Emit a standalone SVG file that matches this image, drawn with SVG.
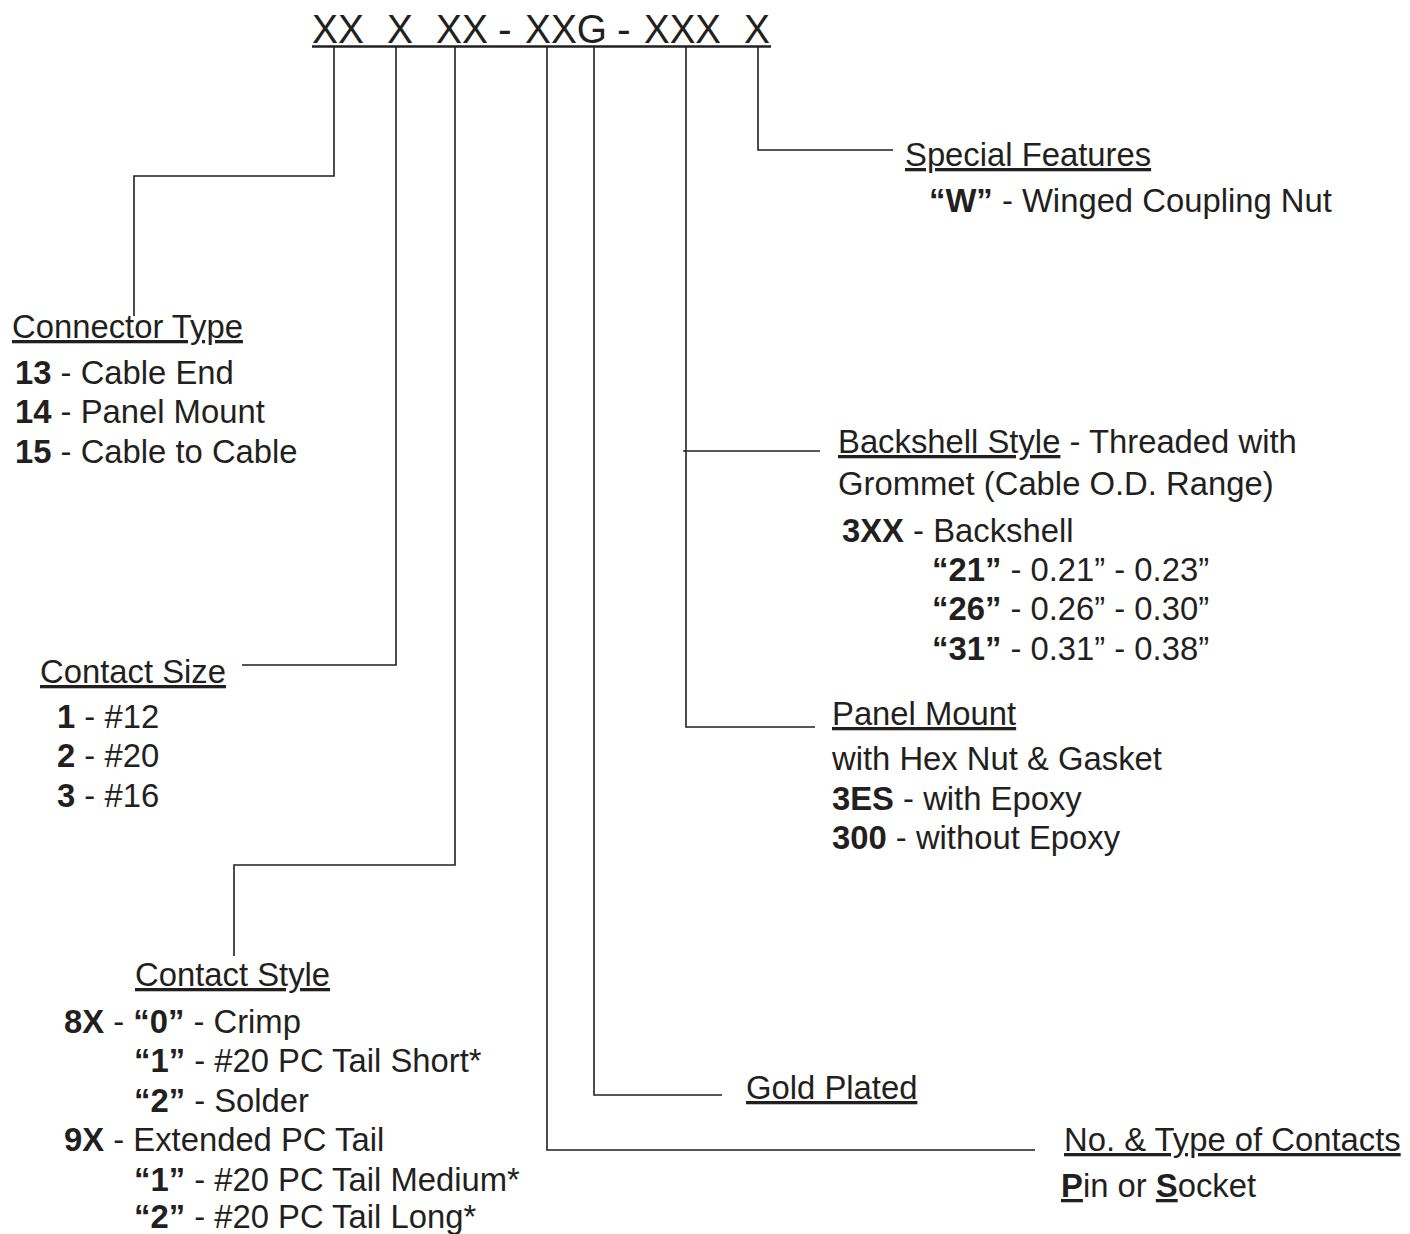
<svg xmlns="http://www.w3.org/2000/svg" width="1410" height="1234" viewBox="0 0 1410 1234">
<style>
  text { font-family: "Liberation Sans", Arial, sans-serif; font-size: 32.8px; fill: #231f20; }
  .b { font-weight: bold; }
  .u { text-decoration: underline; text-decoration-skip-ink: none; }
  .hdr { font-size: 41px; }
  .ln { fill: none; stroke: #231f20; stroke-width: 1.6; }
</style>
<rect width="1410" height="1234" fill="#ffffff"/>
<g id="part-number">
  <text class="hdr" x="312" y="43" textLength="52" lengthAdjust="spacingAndGlyphs">XX</text>
  <text class="hdr" x="387" y="43" textLength="26" lengthAdjust="spacingAndGlyphs">X</text>
  <text class="hdr" x="436" y="43" textLength="52" lengthAdjust="spacingAndGlyphs">XX</text>
  <text class="hdr" x="498" y="43">-</text>
  <text class="hdr" x="525" y="43" textLength="82" lengthAdjust="spacingAndGlyphs">XXG</text>
  <text class="hdr" x="617" y="43">-</text>
  <text class="hdr" x="644" y="43" textLength="77" lengthAdjust="spacingAndGlyphs">XXX</text>
  <text class="hdr" x="744" y="43" textLength="26" lengthAdjust="spacingAndGlyphs">X</text>
  <line x1="312" y1="46.5" x2="771" y2="46.5" stroke="#231f20" stroke-width="2.6"/>
</g>
<g id="connectors">
  <polyline class="ln" points="334,47 334,176 134,176 134,316"/>
  <polyline class="ln" points="396,47 396,665 242,665"/>
  <polyline class="ln" points="455,47 455,865 234,865 234,956"/>
  <polyline class="ln" points="547,47 547,1150 1035,1150"/>
  <polyline class="ln" points="594,47 594,1095 722,1095"/>
  <polyline class="ln" points="686,47 686,727 815,727"/>
  <line class="ln" x1="683" y1="451" x2="820" y2="451"/>
  <polyline class="ln" points="758,47 758,150 893,150"/>
</g>
<g id="connector-type">
  <text class="u" x="12" y="338">Connector Type</text>
  <text x="15" y="384"><tspan class="b">13</tspan> - Cable End</text>
  <text x="15" y="423"><tspan class="b">14</tspan> - Panel Mount</text>
  <text x="15" y="463"><tspan class="b">15</tspan> - Cable to Cable</text>
</g>
<g id="contact-size">
  <text class="u" x="40" y="683">Contact Size</text>
  <text x="57" y="728"><tspan class="b">1</tspan> - #12</text>
  <text x="57" y="767"><tspan class="b">2</tspan> - #20</text>
  <text x="57" y="807"><tspan class="b">3</tspan> - #16</text>
</g>
<g id="contact-style">
  <text class="u" x="135" y="986">Contact Style</text>
  <text x="64" y="1033"><tspan class="b">8X</tspan> - <tspan class="b">“0”</tspan> - Crimp</text>
  <text x="134" y="1072"><tspan class="b">“1”</tspan> - #20 PC Tail Short*</text>
  <text x="134" y="1112"><tspan class="b">“2”</tspan> - Solder</text>
  <text x="64" y="1151"><tspan class="b">9X</tspan> - Extended PC Tail</text>
  <text x="134" y="1191"><tspan class="b">“1”</tspan> - #20 PC Tail Medium*</text>
  <text x="134" y="1228"><tspan class="b">“2”</tspan> - #20 PC Tail Long*</text>
</g>
<g id="special-features">
  <text class="u" x="905" y="166">Special Features</text>
  <text x="929" y="212"><tspan class="b">“W”</tspan> - Winged Coupling Nut</text>
</g>
<g id="backshell-style">
  <text x="838" y="453"><tspan class="u">Backshell Style</tspan> - Threaded with</text>
  <text x="838" y="495">Grommet (Cable O.D. Range)</text>
  <text x="842" y="542"><tspan class="b">3XX</tspan> - Backshell</text>
  <text x="932" y="581"><tspan class="b">“21”</tspan> - 0.21” - 0.23”</text>
  <text x="932" y="620"><tspan class="b">“26”</tspan> - 0.26” - 0.30”</text>
  <text x="932" y="660"><tspan class="b">“31”</tspan> - 0.31” - 0.38”</text>
</g>
<g id="panel-mount">
  <text class="u" x="832" y="725">Panel Mount</text>
  <text x="832" y="770">with Hex Nut &amp; Gasket</text>
  <text x="832" y="810"><tspan class="b">3ES</tspan> - with Epoxy</text>
  <text x="832" y="849"><tspan class="b">300</tspan> - without Epoxy</text>
</g>
<g id="gold-plated">
  <text class="u" x="746" y="1099">Gold Plated</text>
</g>
<g id="contacts">
  <text class="u" x="1064" y="1151">No. &amp; Type of Contacts</text>
  <text x="1061" y="1197"><tspan class="b u">P</tspan>in or <tspan class="b u">S</tspan>ocket</text>
</g>
</svg>
